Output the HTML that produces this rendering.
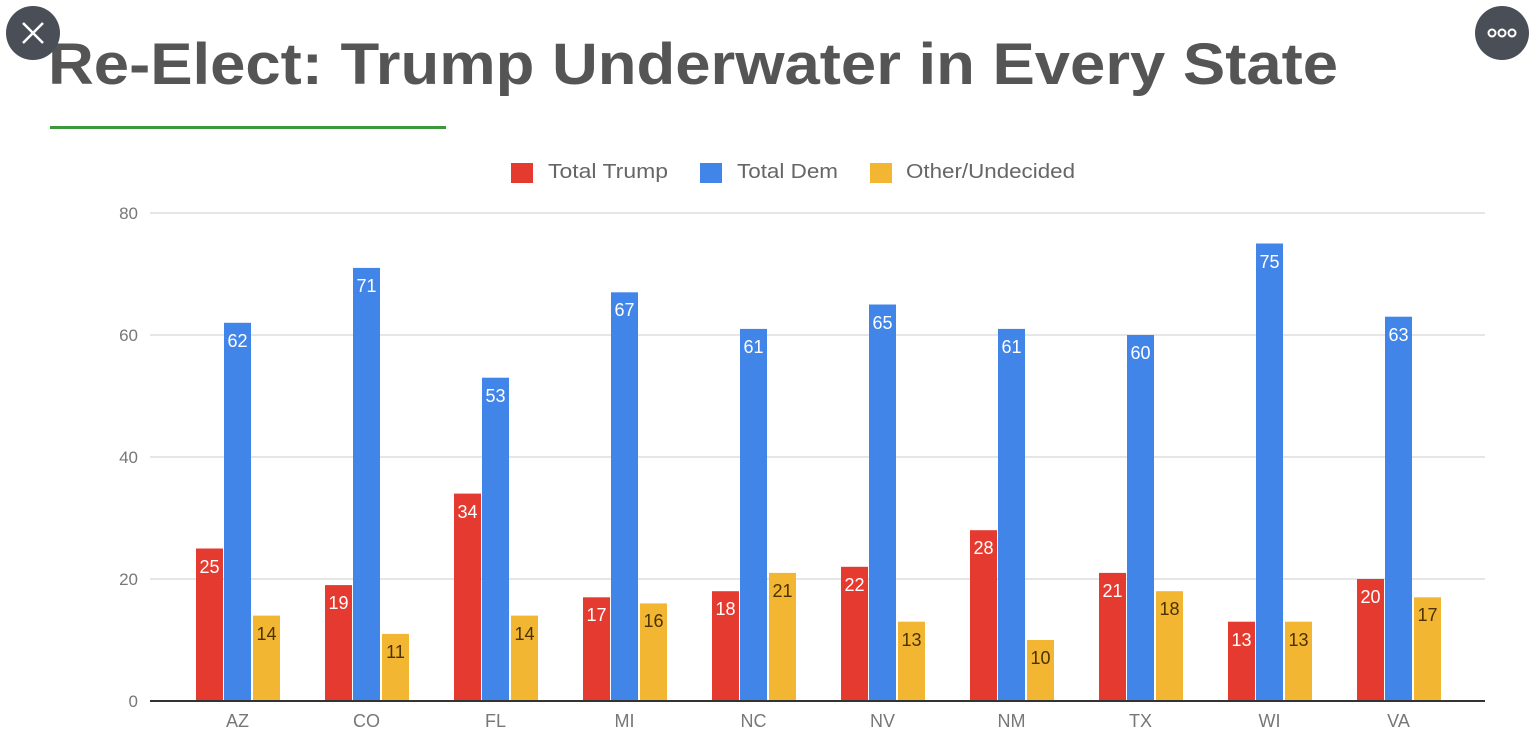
<!DOCTYPE html>
<html><head><meta charset="utf-8"><style>
html,body{margin:0;padding:0;background:#fff;width:1536px;height:741px;overflow:hidden}
svg{display:block;font-family:"Liberation Sans",sans-serif}
</style></head><body>
<svg width="1536" height="741" viewBox="0 0 1536 741">
<rect width="1536" height="741" fill="#fff"/>
<text x="48" y="84" font-size="58" font-weight="bold" fill="#555" textLength="1290" lengthAdjust="spacingAndGlyphs">Re-Elect: Trump Underwater in Every State</text>
<rect x="50" y="126" width="396" height="3" fill="#3a9a3a"/>
<circle cx="33" cy="33" r="27" fill="#4a4f57"/>
<path d="M23 23 L43 43 M43 23 L23 43" stroke="#fff" stroke-width="2.5"/>
<circle cx="1502" cy="33" r="27" fill="#4a4f57"/>
<g fill="none" stroke="#fff" stroke-width="2"><circle cx="1492" cy="33" r="3.5"/><circle cx="1502" cy="33" r="3.5"/><circle cx="1512" cy="33" r="3.5"/></g>
<!-- legend -->
<rect x="511" y="163" width="22" height="20" fill="#e53a2f"/>
<text x="548" y="178" font-size="20" fill="#666" textLength="120" lengthAdjust="spacingAndGlyphs">Total Trump</text>
<rect x="700" y="163" width="22" height="20" fill="#4285e8"/>
<text x="737" y="178" font-size="20" fill="#666" textLength="101" lengthAdjust="spacingAndGlyphs">Total Dem</text>
<rect x="870" y="163" width="22" height="20" fill="#f2b632"/>
<text x="906" y="178" font-size="20" fill="#666" textLength="169" lengthAdjust="spacingAndGlyphs">Other/Undecided</text>
<!-- grid -->
<g stroke="#ddd" stroke-width="1.5">
<line x1="150" x2="1485" y1="213" y2="213"/><line x1="150" x2="1485" y1="335" y2="335"/>
<line x1="150" x2="1485" y1="457" y2="457"/><line x1="150" x2="1485" y1="579" y2="579"/>
</g>
<g font-size="17" fill="#777" text-anchor="end">
<text x="138" y="219">80</text><text x="138" y="341">60</text><text x="138" y="463">40</text><text x="138" y="585">20</text><text x="138" y="707">0</text>
</g>
<g fill="#e53a2f">
<rect x="196" y="548.5" width="27" height="152.5"/><rect x="325" y="585.1" width="27" height="115.9"/>
<rect x="454" y="493.6" width="27" height="207.4"/><rect x="583" y="597.3" width="27" height="103.7"/>
<rect x="712" y="591.2" width="27" height="109.8"/><rect x="841" y="566.8" width="27" height="134.2"/>
<rect x="970" y="530.2" width="27" height="170.8"/><rect x="1099" y="572.9" width="27" height="128.1"/>
<rect x="1228" y="621.7" width="27" height="79.3"/><rect x="1357" y="579" width="27" height="122"/>
</g>
<g fill="#4285e8">
<rect x="224" y="322.8" width="27" height="378.2"/><rect x="353" y="267.9" width="27" height="433.1"/>
<rect x="482" y="377.7" width="27" height="323.3"/><rect x="611" y="292.3" width="27" height="408.7"/>
<rect x="740" y="328.9" width="27" height="372.1"/><rect x="869" y="304.5" width="27" height="396.5"/>
<rect x="998" y="328.9" width="27" height="372.1"/><rect x="1127" y="335" width="27" height="366"/>
<rect x="1256" y="243.5" width="27" height="457.5"/><rect x="1385" y="316.7" width="27" height="384.3"/>
</g>
<g fill="#f2b632">
<rect x="253" y="615.6" width="27" height="85.4"/><rect x="382" y="633.9" width="27" height="67.1"/>
<rect x="511" y="615.6" width="27" height="85.4"/><rect x="640" y="603.4" width="27" height="97.6"/>
<rect x="769" y="572.9" width="27" height="128.1"/><rect x="898" y="621.7" width="27" height="79.3"/>
<rect x="1027" y="640" width="27" height="61"/><rect x="1156" y="591.2" width="27" height="109.8"/>
<rect x="1285" y="621.7" width="27" height="79.3"/><rect x="1414" y="597.3" width="27" height="103.7"/>
</g>
<line x1="150" x2="1485" y1="701" y2="701" stroke="#333" stroke-width="2"/>
<g font-size="18" fill="#fff" text-anchor="middle">
<text x="209.5" y="573">25</text><text x="338.5" y="609">19</text><text x="467.5" y="518">34</text><text x="596.5" y="621">17</text><text x="725.5" y="615">18</text>
<text x="854.5" y="591">22</text><text x="983.5" y="554">28</text><text x="1112.5" y="597">21</text><text x="1241.5" y="646">13</text><text x="1370.5" y="603">20</text>
<text x="237.5" y="347">62</text><text x="366.5" y="292">71</text><text x="495.5" y="402">53</text><text x="624.5" y="316">67</text><text x="753.5" y="353">61</text>
<text x="882.5" y="329">65</text><text x="1011.5" y="353">61</text><text x="1140.5" y="359">60</text><text x="1269.5" y="268">75</text><text x="1398.5" y="341">63</text>
</g>
<g font-size="18" fill="#4a3300" text-anchor="middle">
<text x="266.5" y="640">14</text><text x="395.5" y="658">11</text><text x="524.5" y="640">14</text><text x="653.5" y="627">16</text><text x="782.5" y="597">21</text>
<text x="911.5" y="646">13</text><text x="1040.5" y="664">10</text><text x="1169.5" y="615">18</text><text x="1298.5" y="646">13</text><text x="1427.5" y="621">17</text>
</g>
<g font-size="18" fill="#777" text-anchor="middle">
<text x="237.5" y="727">AZ</text><text x="366.5" y="727">CO</text><text x="495.5" y="727">FL</text><text x="624.5" y="727">MI</text><text x="753.5" y="727">NC</text>
<text x="882.5" y="727">NV</text><text x="1011.5" y="727">NM</text><text x="1140.5" y="727">TX</text><text x="1269.5" y="727">WI</text><text x="1398.5" y="727">VA</text>
</g>
</svg>
</body></html>
